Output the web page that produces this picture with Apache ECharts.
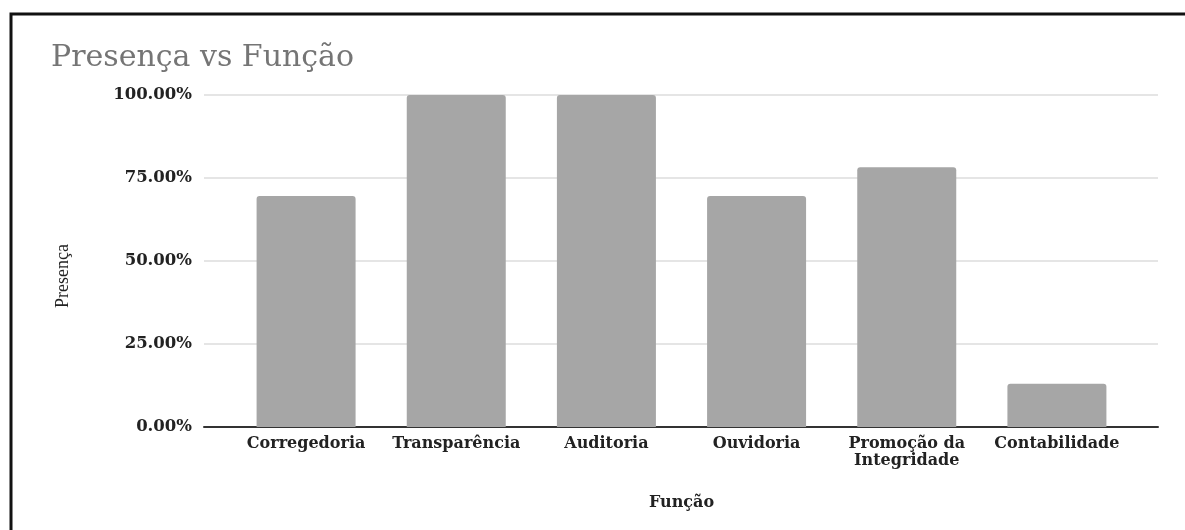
<!DOCTYPE html>
<html>
<head>
<meta charset="utf-8">
<script src="https://cdn.jsdelivr.net/npm/echarts@6/dist/echarts.min.js"></script>
<style>
  html, body { margin: 0; padding: 0; background: #ffffff; }
  #chart { width: 1185px; height: 530px; }
</style>
</head>
<body>
<div id="chart"></div>
<script>
// Share of bodies where each function is present
const categories = ['Corregedoria', 'Transparência', 'Auditoria', 'Ouvidoria', 'Promoção da\nIntegridade', 'Contabilidade'];
const presence = [0.6957, 1.0, 1.0, 0.6957, 0.7826, 0.1304];
const yTicks = [0, 0.25, 0.5, 0.75, 1.0];

const serif = '"DejaVu Serif", "Liberation Serif", serif';
const chart = echarts.init(document.getElementById('chart'));

chart.setOption({
  animation: false,
  backgroundColor: '#ffffff',
  title: {
    text: 'Presença vs Função',
    left: 46,
    top: 38,
    textStyle: { fontFamily: serif, fontSize: 30, fontWeight: 'normal', color: '#757575' }
  },
  graphic: [{
    type: 'rect',
    shape: { x: 11, y: 14, width: 1300, height: 700 },
    style: { fill: 'none', stroke: '#111111', lineWidth: 3 },
    silent: true
  }],
  grid: [
    // frame grid: value gridlines and the base axis line
    { left: 204, right: 27, top: 95, bottom: 103 },
    // bar grid: category bands inset from the frame
    { left: 231, right: 53, top: 95, bottom: 103 }
  ],
  xAxis: [
    {
      gridIndex: 0, type: 'value', min: 0, max: 1,
      axisLine: { show: true, lineStyle: { color: '#333333', width: 2 } },
      axisTick: { show: false }, axisLabel: { show: false }, splitLine: { show: false }
    },
    {
      gridIndex: 1, type: 'category', data: categories,
      axisLine: { show: false }, axisTick: { show: false },
      axisLabel: {
        interval: 0, margin: 8, fontFamily: serif, fontSize: 16, fontWeight: 'bold',
        color: '#222222', lineHeight: 17
      },
      name: 'Função', nameLocation: 'middle', nameGap: 68,
      nameTextStyle: { fontFamily: serif, fontSize: 16, fontWeight: 'bold', color: '#222222' }
    }
  ],
  yAxis: [
    {
      gridIndex: 0, type: 'value', min: 0, max: 1, interval: 0.25,
      axisLine: { show: false }, axisTick: { show: false },
      axisLabel: {
        margin: 12, fontFamily: serif, fontSize: 16.5, fontWeight: 'bold', color: '#222222',
        formatter: v => (v * 100).toFixed(2) + '%'
      },
      splitLine: { show: true, lineStyle: { color: '#dcdcdc', width: 1.5 } },
      name: 'Presença', nameLocation: 'middle', nameRotate: 90, nameGap: 132,
      nameTextStyle: {
        fontFamily: '"Liberation Serif", serif', fontSize: 18, color: '#222222',
        padding: [0, 30, 0, 0]
      }
    },
    {
      gridIndex: 1, type: 'value', min: 0, max: 1, interval: 0.25, show: false,
      splitLine: { show: false }
    }
  ],
  series: [{
    type: 'bar',
    xAxisIndex: 1, yAxisIndex: 1,
    data: presence,
    barWidth: 99,
    itemStyle: { color: '#a6a6a6', borderRadius: [3, 3, 0, 0] }
  }]
});
</script>
</body>
</html>
